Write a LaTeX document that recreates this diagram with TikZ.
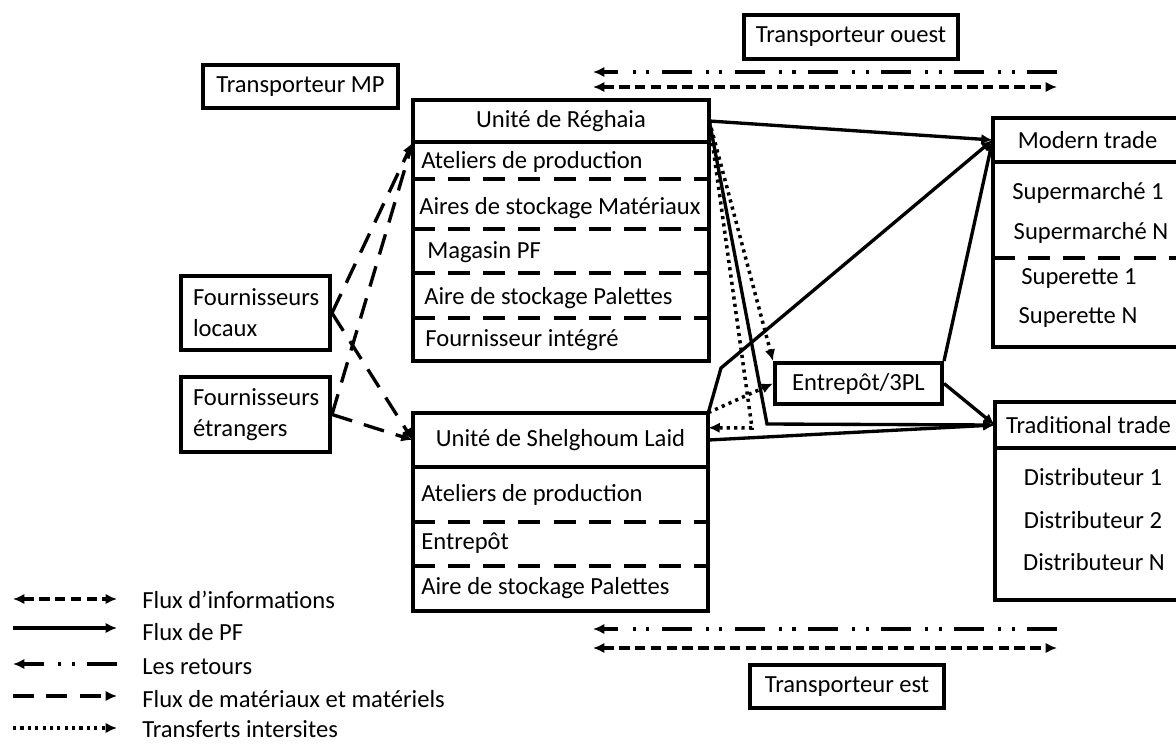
\documentclass[tikz,border=0pt]{standalone}
\usepackage{fontspec}
\setmainfont{Carlito}
\usetikzlibrary{arrows.meta}

\begin{document}
\begin{tikzpicture}[x=0.02cm, y=-0.02cm,
  font=\fontsize{14}{17.6}\selectfont,
  box/.style={draw, line width=2.3pt, inner sep=0pt},
  head/.style={inner sep=0pt},
  row/.style={anchor=west, inner sep=0pt},
  sep/.style={line width=2pt, dash pattern=on 12.5pt off 7.5pt},
  tip/.style={-{Latex[length=6.5pt,width=6pt]}},
  pf/.style={line width=1.9pt, tip},
  mat/.style={line width=1.9pt, dash pattern=on 12pt off 7pt, tip},
  intersite/.style={line width=2pt, dash pattern=on 1.8pt off 2.4pt, tip},
  info/.style={line width=1.9pt, dash pattern=on 6pt off 3pt, {Latex[length=6.5pt,width=6pt]}-{Latex[length=6.5pt,width=6pt]}},
  retour/.style={line width=1.9pt, dash pattern=on 17pt off 7pt on 1.8pt off 6pt on 1.8pt off 8pt, tip}]
  \useasboundingbox (0,0) rectangle (1176,744);

  \node[box, minimum width=3.9cm, minimum height=0.86cm] (tmp) at (300.5,86.5) {Transporteur MP};
  \node[box, minimum width=4.28cm, minimum height=0.88cm] (touest) at (851,37) {Transporteur ouest};
  \node[box, minimum width=3.88cm, minimum height=0.86cm] (test) at (847,686.5) {Transporteur est};
  \node[box, minimum width=2.98cm, minimum height=1.48cm, text width=2.5cm, align=left] (flocaux) at (255.5,313) {Fournisseurs\\locaux};
  \node[box, minimum width=2.98cm, minimum height=1.5cm, text width=2.5cm, align=left] (fetr) at (255.5,414.5) {Fournisseurs\\étrangers};

  \node[box, minimum width=5.92cm, minimum height=5.22cm] (reg) at (561,230.5) {};
  \node[head, minimum width=5.92cm, minimum height=0.84cm] (reghead) at (561,121) {Unité de Réghaia};
  \node[row] (reg1) at (421,162) {Ateliers de production};
  \node[row] (reg2) at (419,208) {Aires de stockage Matériaux};
  \node[row] (reg3) at (427,252) {Magasin PF};
  \node[row] (reg4) at (424,298) {Aire de stockage Palettes};
  \node[row] (reg5) at (425,340) {Fournisseur intégré};
  \draw[line width=2pt] (413,142) -- (709,142);
  \draw[sep] (413,179) -- (709,179);
  \draw[sep] (413,229) -- (709,229);
  \draw[sep] (413,273) -- (709,273);
  \draw[sep] (413,318) -- (709,318);

  \node[box, minimum width=5.9cm, minimum height=3.96cm] (shel) at (560.5,512) {};
  \node[head, minimum width=5.9cm, minimum height=1.08cm] (shelhead) at (560.5,440) {Unité de Shelghoum Laid};
  \node[row] (shel1) at (421,495) {Ateliers de production};
  \node[row] (shel2) at (421,543) {Entrepôt};
  \node[row] (shel3) at (421,588) {Aire de stockage Palettes};
  \draw[line width=2pt] (413,467) -- (708,467);
  \draw[sep] (413,522) -- (708,522);
  \draw[sep] (413,566) -- (708,566);

  \node[box, minimum width=3.78cm, minimum height=4.58cm] (mt) at (1087.5,232.5) {};
  \node[head, minimum width=3.78cm, minimum height=0.88cm] (mthead) at (1087.5,140) {Modern trade};
  \node (mt1) at (1088,193) {Supermarché 1};
  \node (mt2) at (1091,233) {Supermarché N};
  \node (mt3) at (1079,278) {Superette 1};
  \node (mt4) at (1078,317) {Superette N};
  \draw[line width=2pt] (993,162) -- (1182,162);
  \draw[sep] (993,258) -- (1182,258);

  \node[box, minimum width=3.74cm, minimum height=3.96cm] (tt) at (1088.5,501) {};
  \node[head, minimum width=3.74cm, minimum height=0.92cm] (tthead) at (1088.5,425) {Traditional trade};
  \node (tt1) at (1093,477) {Distributeur 1};
  \node (tt2) at (1093,520) {Distributeur 2};
  \node (tt3) at (1094,562) {Distributeur N};
  \draw[line width=2pt] (995,448) -- (1182,448);

  \node[box, minimum width=3.34cm, minimum height=0.82cm] (ent) at (858.5,383.5) {Entrepôt/3PL};

  \coordinate (b1) at (721,368);
  \coordinate (b2) at (767,424);
  \coordinate (b3) at (752,428);
  \draw[pf] (reghead.east) -- (mthead.west);
  \draw[pf] (reghead.east) -- (b2) -- (tthead.west);
  \draw[pf] (shelhead.north east) -- (b1) -- (mthead.west);
  \draw[pf] (ent.north east) -- (mthead.west);
  \draw[pf] (ent.east) -- (tthead.west);
  \draw[pf] (shelhead.east) -- (tthead.west);
  \draw[intersite] (reghead.east) -- (ent.north west);
  \draw[intersite] (reghead.east) -- (b3) -- ([yshift=7pt]shelhead.east);
  \draw[intersite] (shelhead.north east) -- (ent.west);
  \draw[mat] (flocaux.east) -- (reghead.south west);
  \draw[mat] (flocaux.east) -- (shelhead.west);
  \draw[mat] (fetr.east) -- (reghead.south west);
  \draw[mat] (fetr.east) -- (shelhead.west);

  \coordinate (o1) at (593,72);
  \coordinate (o2) at (1057,72);
  \coordinate (o3) at (593,87);
  \coordinate (o4) at (1057,87);
  \draw[retour] (o2) -- (o1);
  \draw[info] (o3) -- (o4);
  \coordinate (e1) at (593,629);
  \coordinate (e2) at (1057,629);
  \coordinate (e3) at (593,648);
  \coordinate (e4) at (1057,648);
  \draw[retour] (e2) -- (e1);
  \draw[info] (e3) -- (e4);

  \coordinate (la1) at (13,599);
  \coordinate (lb1) at (117,599);
  \coordinate (la2) at (13,628);
  \coordinate (lb2) at (117,628);
  \coordinate (la3) at (13,664);
  \coordinate (lb3) at (117,664);
  \coordinate (la4) at (13,696);
  \coordinate (lb4) at (117,696);
  \coordinate (la5) at (13,728);
  \coordinate (lb5) at (117,728);
  \draw[info] (la1) -- (lb1);
  \draw[pf] (la2) -- (lb2);
  \draw[retour] (lb3) -- (la3);
  \draw[mat] (la4) -- (lb4);
  \draw[intersite] (la5) -- (lb5);
  \node[row] (lt1) at (142,600) {Flux d’informations};
  \node[row] (lt2) at (142,632) {Flux de PF};
  \node[row] (lt3) at (142,667) {Les retours};
  \node[row] (lt4) at (142,699) {Flux de matériaux et matériels};
  \node[row] (lt5) at (142,729) {Transferts intersites};
\end{tikzpicture}
\end{document}
